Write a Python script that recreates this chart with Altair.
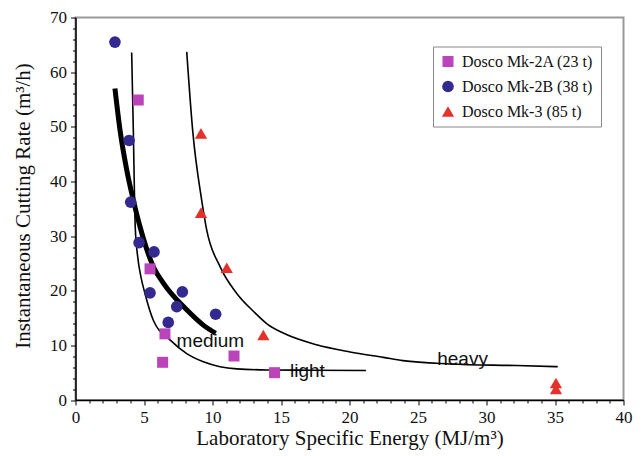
import altair as alt
import pandas as pd

# --- series data ---
mk2a_x = [4.58, 5.44, 6.53, 6.36, 11.57, 14.53]
mk2a_y = [54.9, 24.0, 12.1, 6.9, 8.05, 5.0]

mk2b_x = [2.88, 3.91, 4.03, 4.64, 5.73, 5.44, 7.80, 7.39, 6.77, 10.23]
mk2b_y = [65.5, 47.5, 36.2, 28.8, 27.1, 19.6, 19.8, 17.1, 14.2, 15.7]

mk3_x = [9.16, 9.16, 11.04, 13.71, 35.07, 35.07]
mk3_y = [48.8, 34.3, 24.2, 11.9, 3.1, 2.0]

series_names = ["Dosco Mk-2A (23 t)", "Dosco Mk-2B (38 t)", "Dosco Mk-3 (85 t)"]

medium_x = [2.88, 3.25, 3.74, 4.22, 4.71, 5.68, 6.41, 8.12, 9.33, 10.23]
medium_y = [57.0, 49.4, 42.1, 36.6, 31.7, 24.4, 21.4, 16.5, 13.7, 12.2]

light_x = [4.10, 4.22, 4.36, 4.55, 4.78, 5.07, 5.68, 6.90, 8.12, 9.33, 10.55, 11.77, 14.0, 17.0, 21.2]
light_y = [63.6, 49.4, 31.7, 26.0, 22.5, 19.5, 14.6, 11.0, 8.5, 7.0, 6.1, 5.7, 5.5, 5.45, 5.4]

heavy_x = [8.12, 8.55, 9.21, 9.58, 10.55, 11.77, 13.0, 14.0, 15.2, 17.6, 20.04, 22.47, 23.9, 27.3, 32.2, 35.2]
heavy_y = [63.7, 49.4, 36.6, 31.1, 24.4, 19.5, 16.2, 13.9, 12.2, 10.1, 8.8, 7.8, 7.2, 6.6, 6.3, 6.1]

label_text = ["medium", "light", "heavy"]
label_x = [7.38, 15.66, 26.4]
label_y = [9.75, 4.2, 6.4]

x_ticks = list(range(0, 41, 1))
y_ticks = list(range(0, 71, 2))

# --- tables ---
pts = pd.DataFrame({
    "x": mk2a_x + mk2b_x + mk3_x,
    "y": mk2a_y + mk2b_y + mk3_y,
    "series": [series_names[0]] * len(mk2a_x) + [series_names[1]] * len(mk2b_x) + [series_names[2]] * len(mk3_x),
})
thin = pd.DataFrame({
    "x": light_x + heavy_x,
    "y": light_y + heavy_y,
    "curve": ["light"] * len(light_x) + ["heavy"] * len(heavy_x),
})
thick = pd.DataFrame({"x": medium_x, "y": medium_y, "curve": ["medium"] * len(medium_x)})
labels = pd.DataFrame({"x": label_x, "y": label_y, "label": label_text})

serif = "Liberation Serif"

x_enc = alt.X(
    "x:Q",
    scale=alt.Scale(domain=[0, 40], nice=False, zero=False),
    axis=alt.Axis(
        title="Laboratory Specific Energy (MJ/m³)",
        values=x_ticks,
        labelExpr="datum.value % 5 === 0 ? datum.label : ''",
        tickSize={"condition": {"test": "datum.value % 5 === 0", "value": 5}, "value": 3},
        labelOverlap=False,
        labelFlush=False,
        grid=False,
        titleX=274,
        titleY=44,
        titleBaseline="alphabetic",
    ),
)
y_enc = alt.Y(
    "y:Q",
    scale=alt.Scale(domain=[0, 70], nice=False, zero=False),
    axis=alt.Axis(
        title="Instantaneous Cutting Rate (m³/h)",
        values=y_ticks,
        labelExpr="datum.value % 10 === 0 ? datum.label : ''",
        tickSize={"condition": {"test": "datum.value % 10 === 0", "value": 5}, "value": 3},
        labelOverlap=False,
        labelFlush=False,
        grid=False,
        titleX=-46,
        titleY=188,
        titleBaseline="alphabetic",
    ),
)

points = alt.Chart(pts).mark_point(filled=True, opacity=1, strokeWidth=0).encode(
    x=x_enc,
    y=y_enc,
    color=alt.Color("series:N", scale=alt.Scale(domain=series_names, range=["#BB44BB", "#33298F", "#E3312B"]),
                    legend=alt.Legend(title=None)),
    shape=alt.Shape("series:N", scale=alt.Scale(domain=series_names, range=["square", "circle", "triangle-up"]),
                    legend=alt.Legend(title=None)),
    size=alt.Size("series:N", scale=alt.Scale(domain=series_names, range=[121, 150, 150]), legend=None),
)

thin_lines = alt.Chart(thin).mark_line(color="black", strokeWidth=1.6, interpolate="monotone").encode(
    x=x_enc, y=y_enc, detail="curve:N"
)
thick_line = alt.Chart(thick).mark_line(color="black", strokeWidth=5, interpolate="monotone").encode(
    x=x_enc, y=y_enc, detail="curve:N"
)
texts = alt.Chart(labels).mark_text(
    align="left", baseline="alphabetic", font="Liberation Sans", fontSize=19, color="#111"
).encode(x=x_enc, y=y_enc, text="label:N")

chart = alt.layer(texts, thin_lines, thick_line, points).properties(
    width=548,
    height=382.5,
    autosize=alt.AutoSizeParams(type="none"),
    padding={"left": 67.5, "top": 9.5, "right": 12, "bottom": 50},
).configure_view(
    stroke="#999999", strokeWidth=2
).configure_axis(
    domainColor="black",
    domainWidth=1.5,
    tickColor="black",
    tickWidth=1,
    labelFont=serif,
    labelFontSize=17,
    labelColor="#111",
    labelPadding=4,
    titleFont=serif,
    titleFontSize=21,
    titleFontWeight="normal",
    titleColor="#111",
).configure_legend(
    orient="none",
    legendX=357.5,
    legendY=29,
    direction="vertical",
    fillColor="white",
    strokeColor="#888888",
    padding=7,
    rowPadding=9,
    labelFont=serif,
    labelFontSize=16,
    labelColor="#111",
    labelOffset=6,
    symbolSize=110,
    symbolStrokeWidth=0,
)

chart.save("out.html", embed_options={"renderer": "svg", "actions": False})
